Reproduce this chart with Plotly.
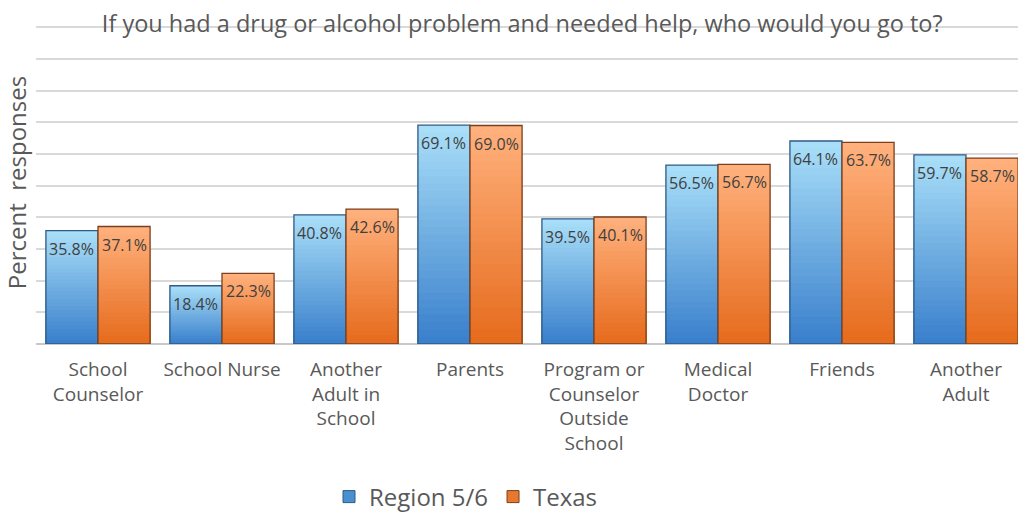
import plotly.graph_objects as go

categories = ["School<br>Counselor", "School Nurse", "Another<br>Adult in<br>School", "Parents",
              "Program or<br>Counselor<br>Outside<br>School", "Medical<br>Doctor", "Friends", "Another<br>Adult"]
region_vals = [35.8, 18.4, 40.8, 69.1, 39.5, 56.5, 64.1, 59.7]
texas_vals = [37.1, 22.3, 42.6, 69.0, 40.1, 56.7, 63.7, 58.7]
series_names = ["Region 5/6", "Texas"]

FONT = "Open Sans"
x_idx = list(range(len(categories)))
BAR_W = 0.42

def lerp(c1, c2, t):
    return "rgb({},{},{})".format(*[round(a + (b - a) * t) for a, b in zip(c1, c2)])

styles = [
    dict(top=(168, 222, 248), bottom=(58, 128, 204), line="#2f5b83", legend="#4a90d0", offset=-BAR_W),
    dict(top=(255, 176, 124), bottom=(230, 108, 30), line="#7a3f1c", legend="#e8782e", offset=0.0),
]

fig = go.Figure()
K = 30
for vals, st, name in zip([region_vals, texas_vals], styles, series_names):
    # gradient: overlay bars from full height (light) down to short (dark)
    for k in range(K):
        frac = (K - k) / K
        fig.add_trace(go.Bar(
            x=x_idx, y=[v * frac for v in vals], width=BAR_W, offset=st["offset"],
            marker=dict(color=lerp(st["top"], st["bottom"], k / (K - 1)), line=dict(width=0)),
            showlegend=False, hoverinfo="skip"))
    # outline
    fig.add_trace(go.Bar(
        x=x_idx, y=vals, width=BAR_W, offset=st["offset"],
        marker=dict(color="rgba(0,0,0,0)", line=dict(color=st["line"], width=1.3)),
        showlegend=False, hoverinfo="skip"))
    # legend entry
    fig.add_trace(go.Bar(
        x=[None], y=[None], name=name,
        marker=dict(color=st["legend"], line=dict(color=st["line"], width=1))))

    for i, v in enumerate(vals):
        fig.add_annotation(x=i + st["offset"] + BAR_W / 2, y=v, yshift=-18, text=f"{v:.1f}%",
                           showarrow=False, font=dict(family=FONT, size=16, color="#404040"))

fig.update_layout(
    barmode="overlay",
    width=1018, height=512,
    margin=dict(l=36, r=0, t=21, b=168),
    paper_bgcolor="white", plot_bgcolor="white",
    title=dict(text="If you had a drug or alcohol problem and needed help, who would you go to?",
               x=0.513, xanchor="center", y=1 - 24 / 512, yanchor="middle", xref="container", yref="container",
               font=dict(family=FONT, size=23.5, color="#595959")),
    legend=dict(orientation="h", x=466 / 1018, xanchor="center", xref="container",
                y=15 / 512, yanchor="middle", yref="container",
                font=dict(family=FONT, size=24, color="#595959"),
                traceorder="normal"),
    xaxis=dict(range=[-0.5, -0.5 + 982 / 124], tickvals=x_idx, ticktext=categories,
               showgrid=False, zeroline=False, showline=False, ticks="", ticklen=0,
               ticklabelstandoff=12,
               tickfont=dict(family=FONT, size=19, color="#595959"), automargin=False, fixedrange=True),
    yaxis=dict(range=[0, 102], tickvals=list(range(10, 101, 10)), showticklabels=False, showgrid=True,
               gridcolor="#d9d9d9", gridwidth=1.5, zeroline=True, zerolinecolor="#c8c8c8", zerolinewidth=2,
               title=dict(text="Percent  responses", standoff=6, font=dict(family=FONT, size=24, color="#595959")),
               automargin=False, fixedrange=True),
    showlegend=True,
)

fig.write_html("out.html", post_script="document.body.style.margin='0';",
               config={"displayModeBar": False})
